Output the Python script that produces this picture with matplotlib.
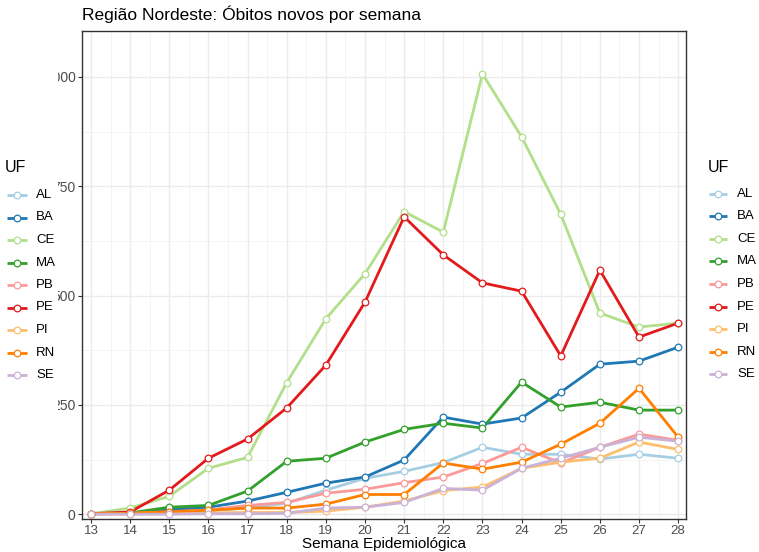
import matplotlib
matplotlib.use("Agg")
import matplotlib.pyplot as plt
from matplotlib.lines import Line2D
from matplotlib.patches import Rectangle
import numpy as np

plt.rcParams['font.family'] = ['Liberation Sans', 'DejaVu Sans']

weeks = list(range(13, 29))
states = ["AL", "BA", "CE", "MA", "PB", "PE", "PI", "RN", "SE"]
colors = ["#A6CEE3", "#1F78B4", "#B2DF8A", "#33A02C", "#FB9A99",
          "#E31A1C", "#FDBF6F", "#FF7F00", "#CAB2D6"]

AL = [1, 2, 4, 8, 14, 25, 55, 82, 98, 118, 153, 137, 137, 126, 137, 128]
BA = [1, 2, 10, 16, 30, 50, 71, 85, 124, 222, 206, 220, 279, 343, 350, 382]
CE = [1, 14, 41, 105, 130, 301, 447, 550, 692, 645, 1007, 863, 686, 460, 428, 437]
MA = [1, 3, 16, 20, 53, 121, 128, 165, 194, 208, 197, 302, 245, 256, 238, 238]
PB = [1, 2, 5, 10, 20, 27, 48, 57, 72, 85, 116, 153, 117, 153, 183, 169]
PE = [1, 5, 55, 128, 172, 243, 341, 485, 680, 593, 529, 510, 362, 558, 405, 437]
PI = [0, 1, 2, 3, 4, 4, 7, 16, 30, 54, 62, 105, 119, 128, 165, 148]
RN = [1, 2, 6, 9, 14, 14, 23, 45, 45, 117, 103, 119, 160, 208, 288, 176]
SE = [0, 0, 0, 1, 1, 2, 14, 16, 27, 59, 55, 105, 128, 153, 176, 167]
series = [AL, BA, CE, MA, PB, PE, PI, RN, SE]

yticks = [0, 250, 500, 750, 1000]
ytick_labels = ["0", "250", "500", "750", "1000"]

W, H = 759, 552
fig = plt.figure(figsize=(W / 100, H / 100), dpi=100)
ax = fig.add_axes([82 / W, 1 - 519 / H, (686 - 82) / W, (519 - 31) / H])

lw = 2.0
ms = 4.8
for vals, c in zip(series, colors):
    ax.plot(weeks, vals, color=c, lw=lw, zorder=2, solid_capstyle='butt')
for vals, c in zip(series, colors):
    ax.plot(weeks, vals, ls='none', marker='o', ms=ms, mfc='white', mec=c,
            mew=0.9, zorder=3)

ax.set_xlim(12.77, 28.2)
ax.set_ylim(-11, 1105)
ax.set_xticks(weeks)
ax.set_xticklabels([str(w) for w in weeks])
ax.set_yticks(yticks)
ax.set_yticklabels(ytick_labels)
ax.set_xticks(np.arange(13.5, 28, 1.0), minor=True)
ax.set_yticks([125, 375, 625, 875], minor=True)
ax.grid(True, which='major', color='#EBEBEB', lw=1.0, zorder=0)
ax.grid(True, which='minor', color='#F3F3F3', lw=0.6, zorder=0)
ax.set_axisbelow(True)
ax.tick_params(axis='both', which='major', colors='#333333', labelcolor='#4D4D4D',
               length=3, width=0.8, pad=1.5)
ax.tick_params(axis='y', which='major', labelsize=10)
ax.tick_params(axis='x', which='major', labelsize=9.5, pad=1.2)
ax.tick_params(axis='both', which='minor', length=0)
for s in ax.spines.values():
    s.set_color('#333333')
    s.set_linewidth(1.0)

fig.text(82 / W, 1 - 14 / H, "Região Nordeste: Óbitos novos por semana",
         ha='left', va='center', fontsize=12.5, color='black')
fig.text(384 / W, 1 - 544 / H, "Semana Epidemiológica", ha='center', va='center',
         fontsize=11, color='black')

# white cover over left part of y tick labels (as in the screenshot)
fig.add_artist(Rectangle((0, 0), 58 / W, 1, transform=fig.transFigure,
                         facecolor='white', edgecolor='none', zorder=5))


def draw_legend(title_x, title_y, key_x0, key_x1, label_x, y0, dy):
    fig.text(title_x / W, 1 - title_y / H, "UF", ha='left', va='center',
             fontsize=11.5, color='black', zorder=7)
    for i, (st, c) in enumerate(zip(states, colors)):
        y = 1 - (y0 + dy * i) / H
        fig.add_artist(Line2D([key_x0 / W, key_x1 / W], [y, y], color=c, lw=lw,
                              transform=fig.transFigure, zorder=7,
                              solid_capstyle='butt'))
        fig.add_artist(Line2D([(key_x0 + key_x1) / 2 / W], [y], ls='none',
                              marker='o', ms=ms, mfc='white', mec=c, mew=0.9,
                              transform=fig.transFigure, zorder=8))
        fig.text(label_x / W, y, st, ha='left', va='center', fontsize=9.5,
                 color='black', zorder=7)


draw_legend(5, 168, 7, 27, 36, 195, 22.5)
draw_legend(708, 167, 709, 727, 737, 193.5, 22.6)

fig.savefig("out.png", dpi=100, facecolor='white')
